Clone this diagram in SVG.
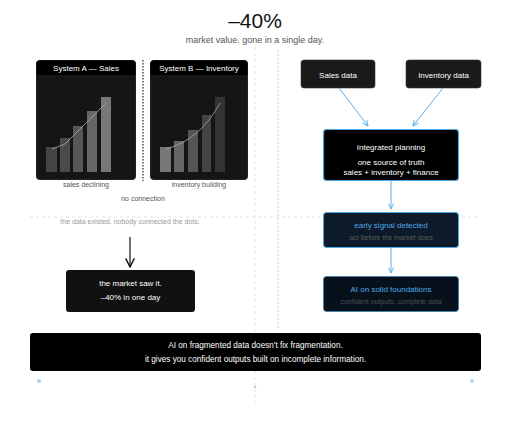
<svg xmlns="http://www.w3.org/2000/svg" width="511" height="435" viewBox="0 0 511 435">
<defs>
<style>
text{font-family:"Liberation Sans",Arial,sans-serif;text-anchor:middle}
.w{fill:#fff;font-size:8px}
.cap{fill:#555;font-size:7px}
.sub{fill:#999;font-size:7px}
.blue{fill:#4ea8e6;font-size:8px}
.dim{fill:#5a5a5a;font-size:7px}
.bl{stroke:#5aaee8;stroke-width:1;fill:none}
.grid{stroke:#ddd;stroke-width:0.8;stroke-dasharray:3 3;fill:none}
</style>
<marker id="ab" viewBox="0 0 10 10" refX="9" refY="5" markerWidth="7" markerHeight="7" orient="auto"><path d="M1,1 L9,5 L1,9" fill="none" stroke="#5aaee8" stroke-width="1.3"/></marker>
<marker id="ak" viewBox="0 0 10 10" refX="9" refY="5" markerWidth="9" markerHeight="9" orient="auto"><path d="M1,1 L9,5 L1,9" fill="none" stroke="#111" stroke-width="1.3"/></marker>
</defs>
<rect width="511" height="435" fill="#fff"/>
<g id="guides">
<line class="grid" x1="255" y1="47" x2="255" y2="403"/>
<line x1="278" y1="50" x2="278" y2="330" stroke="#cfcfcf" stroke-width="1" stroke-dasharray="2 2"/>
<line class="grid" x1="30" y1="217" x2="478" y2="217"/>
</g>
<g id="title">
<text x="255" y="28" style="font-size:21px;fill:#111">–40%</text>
<text x="255" y="43" style="font-size:9px;fill:#555">market value. gone in a single day.</text>
</g>
<g id="systemA">
<rect x="36.5" y="60.5" width="99" height="119" rx="3" fill="#151515" stroke="#222"/>
<path d="M36.5,75 V63.5 a3,3 0 0 1 3,-3 H132.5 a3,3 0 0 1 3,3 V75 Z" fill="#000"/>
<text class="w" x="86" y="71">System A — Sales</text>
<rect x="46" y="147" width="11" height="25" fill="#444"/>
<rect x="60" y="138" width="10" height="34" fill="#4b4b4b"/>
<rect x="73" y="126" width="10" height="46" fill="#575757"/>
<rect x="87" y="111" width="10" height="61" fill="#666"/>
<rect x="101" y="97" width="10" height="75" fill="#787878"/>
<path d="M52,149 L65,144 L106,103" stroke="#aaa" stroke-width="0.8" fill="none"/>
<text class="cap" x="86" y="187">sales declining</text>
</g>
<g id="systemB">
<rect x="150.5" y="60.5" width="97" height="119" rx="3" fill="#151515" stroke="#222"/>
<path d="M150.5,75 V63.5 a3,3 0 0 1 3,-3 H244.5 a3,3 0 0 1 3,3 V75 Z" fill="#000"/>
<text class="w" x="199" y="71">System B — Inventory</text>
<rect x="160" y="147" width="11" height="25" fill="#777"/>
<rect x="174" y="141" width="10" height="31" fill="#666"/>
<rect x="188" y="130" width="10" height="42" fill="#555"/>
<rect x="202" y="115" width="9" height="57" fill="#444"/>
<rect x="215" y="97" width="10" height="75" fill="#333"/>
<path d="M166,149 Q200,140 220,103" stroke="#aaa" stroke-width="0.8" fill="none"/>
<text class="cap" x="199" y="187">inventory building</text>
</g>
<g id="noconn">
<line x1="143" y1="60" x2="143" y2="181" stroke="#222" stroke-width="1.2" stroke-dasharray="1.5 1.5"/>
<text class="cap" x="143" y="201">no connection</text>
</g>
<text class="sub" x="130" y="224">the data existed. nobody connected the dots.</text>
<g id="market">
<rect x="66" y="270" width="129" height="42" rx="3" fill="#111"/>
<text class="w" x="130.5" y="286">the market saw it.</text>
<text class="w" x="130.5" y="300">–40% in one day</text>
</g>
<g id="salesData">
<rect x="301" y="60" width="74" height="28" rx="3" fill="#1a1a1a" stroke="#333" stroke-width="0.6"/>
<text class="w" x="338" y="78">Sales data</text>
</g>
<g id="inventoryData">
<rect x="406" y="60" width="75" height="28" rx="3" fill="#1a1a1a" stroke="#333" stroke-width="0.6"/>
<text class="w" x="443.5" y="78">Inventory data</text>
</g>
<g id="integrated">
<rect x="323.5" y="129.5" width="135" height="51" rx="3" fill="#000" stroke="#4ea8e6" stroke-width="1.2"/>
<text class="w" x="391" y="150">Integrated planning</text>
<text class="w" x="391" y="165">one source of truth</text>
<text class="w" x="391" y="175">sales + inventory + finance</text>
</g>
<g id="early">
<rect x="323.5" y="212.5" width="135" height="35" rx="3" fill="#0c1a29" stroke="#4ea8e6" stroke-width="1"/>
<text class="blue" x="391" y="228">early signal detected</text>
<text class="dim" x="391" y="240">act before the market does</text>
</g>
<g id="aiSolid">
<rect x="323.5" y="276.5" width="135" height="35" rx="3" fill="#07111c" stroke="#3e7fb0" stroke-width="0.8"/>
<text class="blue" x="391" y="292">AI on solid foundations</text>
<text class="dim" x="391" y="304" style="fill:#4e4e4e">confident outputs, complete data</text>
</g>
<g id="bottom">
<rect x="30" y="333" width="451" height="38" rx="3" fill="#000"/>
<text class="w" x="255.5" y="348" style="font-size:8.2px">AI on fragmented data doesn't fix fragmentation.</text>
<text class="w" x="255.5" y="362" style="font-size:8.2px">it gives you confident outputs built on incomplete information.</text>
</g>
<g id="dots" fill="#a9d5f3">
<circle cx="39" cy="381" r="2"/>
<circle cx="472" cy="381" r="2"/>
<circle cx="255" cy="387" r="1.3"/>
</g>
<g id="connectors">
<line class="bl" x1="339" y1="88" x2="368" y2="126" marker-end="url(#ab)"/>
<line class="bl" x1="443" y1="88" x2="413" y2="126" marker-end="url(#ab)"/>
<line class="bl" x1="391" y1="181" x2="391" y2="209" marker-end="url(#ab)"/>
<line class="bl" x1="391" y1="248" x2="391" y2="273" marker-end="url(#ab)"/>
<line x1="130" y1="237" x2="130" y2="267" stroke="#111" stroke-width="1.2" marker-end="url(#ak)"/>
</g>
</svg>
